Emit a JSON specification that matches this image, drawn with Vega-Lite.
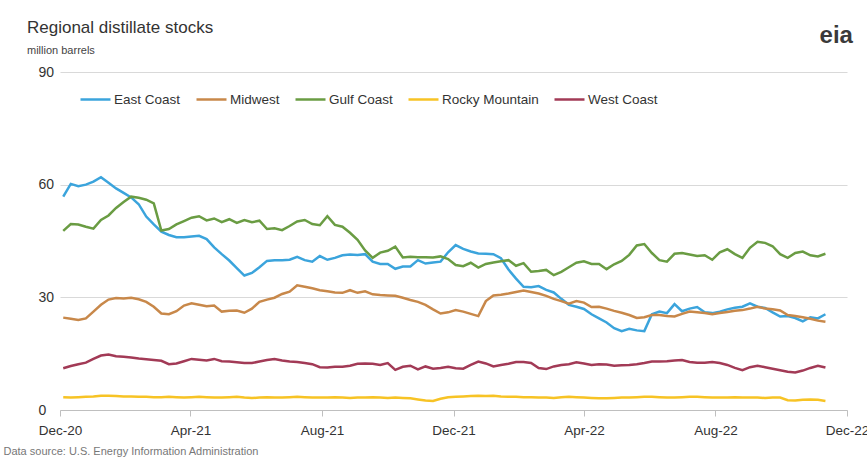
{
  "$schema": "https://vega.github.io/schema/vega-lite/v6.json",
  "width": 787,
  "height": 338,
  "autosize": {"type": "none"},
  "padding": {"left": 60, "top": 72, "right": 20, "bottom": 48},
  "background": "white",
  "config": {
    "font": "Liberation Sans",
    "view": {"stroke": null}
  },
  "title": {
    "text": "Regional distillate stocks",
    "subtitle": "million barrels",
    "anchor": "start",
    "frame": "group",
    "dx": -33,
    "offset": -33,
    "fontSize": 17,
    "fontWeight": "normal",
    "color": "#333333",
    "subtitleFontSize": 11,
    "subtitleColor": "#444444",
    "subtitlePadding": 8
  },
  "datasets": {
    "stocks": [
      {"date":"2020-12-04","East Coast":56.8,"Midwest":24.6,"Gulf Coast":47.7,"Rocky Mountain":3.4,"West Coast":11.1},
      {"date":"2020-12-11","East Coast":60.2,"Midwest":24.3,"Gulf Coast":49.5,"Rocky Mountain":3.3,"West Coast":11.7},
      {"date":"2020-12-18","East Coast":59.6,"Midwest":24.0,"Gulf Coast":49.4,"Rocky Mountain":3.4,"West Coast":12.2},
      {"date":"2020-12-25","East Coast":60.0,"Midwest":24.4,"Gulf Coast":48.8,"Rocky Mountain":3.5,"West Coast":12.6},
      {"date":"2021-01-01","East Coast":60.8,"Midwest":26.2,"Gulf Coast":48.3,"Rocky Mountain":3.6,"West Coast":13.6},
      {"date":"2021-01-08","East Coast":62.0,"Midwest":28.0,"Gulf Coast":50.6,"Rocky Mountain":3.8,"West Coast":14.5},
      {"date":"2021-01-15","East Coast":60.5,"Midwest":29.4,"Gulf Coast":51.8,"Rocky Mountain":3.8,"West Coast":14.8},
      {"date":"2021-01-22","East Coast":59.0,"Midwest":29.8,"Gulf Coast":53.8,"Rocky Mountain":3.7,"West Coast":14.3},
      {"date":"2021-01-29","East Coast":57.8,"Midwest":29.7,"Gulf Coast":55.4,"Rocky Mountain":3.6,"West Coast":14.2},
      {"date":"2021-02-05","East Coast":56.6,"Midwest":29.9,"Gulf Coast":56.8,"Rocky Mountain":3.6,"West Coast":14.0},
      {"date":"2021-02-12","East Coast":54.8,"Midwest":29.5,"Gulf Coast":56.5,"Rocky Mountain":3.5,"West Coast":13.7},
      {"date":"2021-02-19","East Coast":51.5,"Midwest":28.8,"Gulf Coast":56.0,"Rocky Mountain":3.5,"West Coast":13.5},
      {"date":"2021-02-26","East Coast":49.4,"Midwest":27.5,"Gulf Coast":55.0,"Rocky Mountain":3.4,"West Coast":13.3},
      {"date":"2021-03-05","East Coast":47.5,"Midwest":25.7,"Gulf Coast":47.8,"Rocky Mountain":3.4,"West Coast":13.1},
      {"date":"2021-03-12","East Coast":46.6,"Midwest":25.5,"Gulf Coast":48.2,"Rocky Mountain":3.5,"West Coast":12.2},
      {"date":"2021-03-19","East Coast":46.0,"Midwest":26.3,"Gulf Coast":49.4,"Rocky Mountain":3.4,"West Coast":12.4},
      {"date":"2021-03-26","East Coast":46.0,"Midwest":27.8,"Gulf Coast":50.3,"Rocky Mountain":3.3,"West Coast":13.0},
      {"date":"2021-04-02","East Coast":46.2,"Midwest":28.4,"Gulf Coast":51.2,"Rocky Mountain":3.4,"West Coast":13.6},
      {"date":"2021-04-09","East Coast":46.4,"Midwest":28.0,"Gulf Coast":51.6,"Rocky Mountain":3.5,"West Coast":13.4},
      {"date":"2021-04-16","East Coast":45.5,"Midwest":27.6,"Gulf Coast":50.5,"Rocky Mountain":3.4,"West Coast":13.2},
      {"date":"2021-04-23","East Coast":43.3,"Midwest":27.8,"Gulf Coast":51.0,"Rocky Mountain":3.3,"West Coast":13.6},
      {"date":"2021-04-30","East Coast":41.5,"Midwest":26.2,"Gulf Coast":50.0,"Rocky Mountain":3.3,"West Coast":13.0},
      {"date":"2021-05-07","East Coast":39.8,"Midwest":26.4,"Gulf Coast":50.8,"Rocky Mountain":3.4,"West Coast":12.9},
      {"date":"2021-05-14","East Coast":37.8,"Midwest":26.5,"Gulf Coast":49.8,"Rocky Mountain":3.5,"West Coast":12.7},
      {"date":"2021-05-21","East Coast":35.8,"Midwest":25.9,"Gulf Coast":50.6,"Rocky Mountain":3.3,"West Coast":12.5},
      {"date":"2021-05-28","East Coast":36.5,"Midwest":27.0,"Gulf Coast":50.0,"Rocky Mountain":3.2,"West Coast":12.5},
      {"date":"2021-06-04","East Coast":38.0,"Midwest":28.8,"Gulf Coast":50.4,"Rocky Mountain":3.3,"West Coast":12.9},
      {"date":"2021-06-11","East Coast":39.7,"Midwest":29.4,"Gulf Coast":48.2,"Rocky Mountain":3.4,"West Coast":13.3},
      {"date":"2021-06-18","East Coast":39.9,"Midwest":29.9,"Gulf Coast":48.4,"Rocky Mountain":3.3,"West Coast":13.6},
      {"date":"2021-06-25","East Coast":39.9,"Midwest":30.9,"Gulf Coast":47.9,"Rocky Mountain":3.3,"West Coast":13.2},
      {"date":"2021-07-02","East Coast":40.0,"Midwest":31.5,"Gulf Coast":49.0,"Rocky Mountain":3.4,"West Coast":12.9},
      {"date":"2021-07-09","East Coast":40.8,"Midwest":33.2,"Gulf Coast":50.2,"Rocky Mountain":3.5,"West Coast":12.8},
      {"date":"2021-07-16","East Coast":39.9,"Midwest":32.8,"Gulf Coast":50.6,"Rocky Mountain":3.4,"West Coast":12.5},
      {"date":"2021-07-23","East Coast":39.5,"Midwest":32.4,"Gulf Coast":49.5,"Rocky Mountain":3.3,"West Coast":12.2},
      {"date":"2021-07-30","East Coast":41.0,"Midwest":31.9,"Gulf Coast":49.2,"Rocky Mountain":3.3,"West Coast":11.4},
      {"date":"2021-08-06","East Coast":40.0,"Midwest":31.6,"Gulf Coast":51.6,"Rocky Mountain":3.3,"West Coast":11.3},
      {"date":"2021-08-13","East Coast":40.5,"Midwest":31.3,"Gulf Coast":49.3,"Rocky Mountain":3.4,"West Coast":11.5},
      {"date":"2021-08-20","East Coast":41.2,"Midwest":31.2,"Gulf Coast":48.8,"Rocky Mountain":3.3,"West Coast":11.5},
      {"date":"2021-08-27","East Coast":41.4,"Midwest":31.9,"Gulf Coast":47.2,"Rocky Mountain":3.2,"West Coast":11.8},
      {"date":"2021-09-03","East Coast":41.3,"Midwest":31.2,"Gulf Coast":45.3,"Rocky Mountain":3.3,"West Coast":12.3},
      {"date":"2021-09-10","East Coast":41.5,"Midwest":31.6,"Gulf Coast":42.5,"Rocky Mountain":3.3,"West Coast":12.4},
      {"date":"2021-09-17","East Coast":39.5,"Midwest":30.8,"Gulf Coast":40.5,"Rocky Mountain":3.4,"West Coast":12.3},
      {"date":"2021-09-24","East Coast":38.9,"Midwest":30.6,"Gulf Coast":41.9,"Rocky Mountain":3.3,"West Coast":12.0},
      {"date":"2021-10-01","East Coast":38.9,"Midwest":30.5,"Gulf Coast":42.4,"Rocky Mountain":3.2,"West Coast":12.5},
      {"date":"2021-10-08","East Coast":37.6,"Midwest":30.4,"Gulf Coast":43.5,"Rocky Mountain":3.3,"West Coast":10.7},
      {"date":"2021-10-15","East Coast":38.2,"Midwest":29.9,"Gulf Coast":40.6,"Rocky Mountain":3.2,"West Coast":11.5},
      {"date":"2021-10-22","East Coast":38.2,"Midwest":29.3,"Gulf Coast":40.8,"Rocky Mountain":3.1,"West Coast":11.8},
      {"date":"2021-10-29","East Coast":39.9,"Midwest":28.8,"Gulf Coast":40.7,"Rocky Mountain":2.8,"West Coast":10.8},
      {"date":"2021-11-05","East Coast":39.0,"Midwest":28.0,"Gulf Coast":40.7,"Rocky Mountain":2.5,"West Coast":11.6},
      {"date":"2021-11-12","East Coast":39.3,"Midwest":26.8,"Gulf Coast":40.6,"Rocky Mountain":2.4,"West Coast":11.0},
      {"date":"2021-11-19","East Coast":39.5,"Midwest":25.7,"Gulf Coast":40.9,"Rocky Mountain":3.0,"West Coast":11.2},
      {"date":"2021-11-26","East Coast":42.0,"Midwest":26.0,"Gulf Coast":40.2,"Rocky Mountain":3.4,"West Coast":11.5},
      {"date":"2021-12-03","East Coast":43.9,"Midwest":26.6,"Gulf Coast":38.6,"Rocky Mountain":3.5,"West Coast":11.1},
      {"date":"2021-12-10","East Coast":42.9,"Midwest":26.2,"Gulf Coast":38.3,"Rocky Mountain":3.6,"West Coast":11.0},
      {"date":"2021-12-17","East Coast":42.2,"Midwest":25.6,"Gulf Coast":39.2,"Rocky Mountain":3.7,"West Coast":12.0},
      {"date":"2021-12-24","East Coast":41.7,"Midwest":25.0,"Gulf Coast":37.9,"Rocky Mountain":3.8,"West Coast":12.9},
      {"date":"2021-12-31","East Coast":41.6,"Midwest":29.0,"Gulf Coast":38.9,"Rocky Mountain":3.7,"West Coast":12.4},
      {"date":"2022-01-07","East Coast":41.5,"Midwest":30.5,"Gulf Coast":39.3,"Rocky Mountain":3.8,"West Coast":11.6},
      {"date":"2022-01-14","East Coast":40.4,"Midwest":30.7,"Gulf Coast":39.6,"Rocky Mountain":3.6,"West Coast":12.0},
      {"date":"2022-01-21","East Coast":37.4,"Midwest":31.0,"Gulf Coast":39.9,"Rocky Mountain":3.5,"West Coast":12.3},
      {"date":"2022-01-28","East Coast":35.0,"Midwest":31.4,"Gulf Coast":38.4,"Rocky Mountain":3.5,"West Coast":12.8},
      {"date":"2022-02-04","East Coast":32.8,"Midwest":31.8,"Gulf Coast":39.1,"Rocky Mountain":3.4,"West Coast":12.8},
      {"date":"2022-02-11","East Coast":32.7,"Midwest":31.4,"Gulf Coast":36.8,"Rocky Mountain":3.4,"West Coast":12.5},
      {"date":"2022-02-18","East Coast":33.0,"Midwest":31.0,"Gulf Coast":37.0,"Rocky Mountain":3.3,"West Coast":11.2},
      {"date":"2022-02-25","East Coast":32.0,"Midwest":30.4,"Gulf Coast":37.3,"Rocky Mountain":3.3,"West Coast":10.9},
      {"date":"2022-03-04","East Coast":31.3,"Midwest":29.6,"Gulf Coast":35.9,"Rocky Mountain":3.2,"West Coast":11.6},
      {"date":"2022-03-11","East Coast":29.6,"Midwest":29.0,"Gulf Coast":36.8,"Rocky Mountain":3.4,"West Coast":12.0},
      {"date":"2022-03-18","East Coast":28.0,"Midwest":28.3,"Gulf Coast":38.0,"Rocky Mountain":3.5,"West Coast":12.2},
      {"date":"2022-03-25","East Coast":27.5,"Midwest":29.0,"Gulf Coast":39.2,"Rocky Mountain":3.4,"West Coast":12.7},
      {"date":"2022-04-01","East Coast":26.9,"Midwest":28.6,"Gulf Coast":39.6,"Rocky Mountain":3.3,"West Coast":12.4},
      {"date":"2022-04-08","East Coast":25.5,"Midwest":27.4,"Gulf Coast":38.9,"Rocky Mountain":3.2,"West Coast":12.0},
      {"date":"2022-04-15","East Coast":24.4,"Midwest":27.5,"Gulf Coast":38.9,"Rocky Mountain":3.1,"West Coast":12.2},
      {"date":"2022-04-22","East Coast":23.3,"Midwest":27.0,"Gulf Coast":37.5,"Rocky Mountain":3.1,"West Coast":12.1},
      {"date":"2022-04-29","East Coast":21.8,"Midwest":26.4,"Gulf Coast":38.8,"Rocky Mountain":3.2,"West Coast":11.8},
      {"date":"2022-05-06","East Coast":21.0,"Midwest":25.9,"Gulf Coast":39.7,"Rocky Mountain":3.3,"West Coast":11.9},
      {"date":"2022-05-13","East Coast":21.6,"Midwest":25.3,"Gulf Coast":41.3,"Rocky Mountain":3.3,"West Coast":12.0},
      {"date":"2022-05-20","East Coast":21.2,"Midwest":24.5,"Gulf Coast":43.8,"Rocky Mountain":3.4,"West Coast":12.2},
      {"date":"2022-05-27","East Coast":21.0,"Midwest":24.7,"Gulf Coast":44.2,"Rocky Mountain":3.5,"West Coast":12.5},
      {"date":"2022-06-03","East Coast":25.5,"Midwest":25.3,"Gulf Coast":41.8,"Rocky Mountain":3.5,"West Coast":12.9},
      {"date":"2022-06-10","East Coast":26.2,"Midwest":25.3,"Gulf Coast":39.9,"Rocky Mountain":3.4,"West Coast":12.9},
      {"date":"2022-06-17","East Coast":25.8,"Midwest":25.0,"Gulf Coast":39.5,"Rocky Mountain":3.3,"West Coast":13.0},
      {"date":"2022-06-24","East Coast":28.2,"Midwest":24.9,"Gulf Coast":41.6,"Rocky Mountain":3.3,"West Coast":13.2},
      {"date":"2022-07-01","East Coast":26.3,"Midwest":25.6,"Gulf Coast":41.8,"Rocky Mountain":3.4,"West Coast":13.3},
      {"date":"2022-07-08","East Coast":27.0,"Midwest":26.2,"Gulf Coast":41.4,"Rocky Mountain":3.5,"West Coast":12.8},
      {"date":"2022-07-15","East Coast":27.4,"Midwest":26.0,"Gulf Coast":41.0,"Rocky Mountain":3.5,"West Coast":12.6},
      {"date":"2022-07-22","East Coast":26.0,"Midwest":25.8,"Gulf Coast":41.2,"Rocky Mountain":3.4,"West Coast":12.6},
      {"date":"2022-07-29","East Coast":25.8,"Midwest":25.5,"Gulf Coast":40.0,"Rocky Mountain":3.3,"West Coast":12.8},
      {"date":"2022-08-05","East Coast":26.2,"Midwest":25.8,"Gulf Coast":42.0,"Rocky Mountain":3.3,"West Coast":12.5},
      {"date":"2022-08-12","East Coast":26.8,"Midwest":26.1,"Gulf Coast":42.8,"Rocky Mountain":3.3,"West Coast":12.0},
      {"date":"2022-08-19","East Coast":27.2,"Midwest":26.4,"Gulf Coast":41.5,"Rocky Mountain":3.4,"West Coast":11.2},
      {"date":"2022-08-26","East Coast":27.5,"Midwest":26.6,"Gulf Coast":40.5,"Rocky Mountain":3.3,"West Coast":10.6},
      {"date":"2022-09-02","East Coast":28.4,"Midwest":27.0,"Gulf Coast":43.2,"Rocky Mountain":3.3,"West Coast":11.4},
      {"date":"2022-09-09","East Coast":27.5,"Midwest":27.5,"Gulf Coast":44.8,"Rocky Mountain":3.3,"West Coast":11.8},
      {"date":"2022-09-16","East Coast":27.2,"Midwest":27.0,"Gulf Coast":44.5,"Rocky Mountain":3.2,"West Coast":11.4},
      {"date":"2022-09-23","East Coast":26.0,"Midwest":26.8,"Gulf Coast":43.6,"Rocky Mountain":3.3,"West Coast":11.0},
      {"date":"2022-09-30","East Coast":24.9,"Midwest":26.5,"Gulf Coast":41.5,"Rocky Mountain":3.3,"West Coast":10.6},
      {"date":"2022-10-07","East Coast":25.0,"Midwest":25.3,"Gulf Coast":40.5,"Rocky Mountain":2.6,"West Coast":10.2},
      {"date":"2022-10-14","East Coast":24.5,"Midwest":25.0,"Gulf Coast":41.8,"Rocky Mountain":2.5,"West Coast":10.0},
      {"date":"2022-10-21","East Coast":23.6,"Midwest":24.7,"Gulf Coast":42.2,"Rocky Mountain":2.7,"West Coast":10.5},
      {"date":"2022-10-28","East Coast":24.7,"Midwest":24.3,"Gulf Coast":41.2,"Rocky Mountain":2.8,"West Coast":11.2},
      {"date":"2022-11-04","East Coast":24.4,"Midwest":23.8,"Gulf Coast":40.9,"Rocky Mountain":2.7,"West Coast":11.8},
      {"date":"2022-11-11","East Coast":25.5,"Midwest":23.5,"Gulf Coast":41.6,"Rocky Mountain":2.4,"West Coast":11.3}
    ],
    "logo": [
      {"date": "2022-11-21", "stocks": 99.5, "label": "eia"}
    ]
  },
  "layer": [
    {
      "data": {"name": "stocks"},
      "transform": [
        {"fold": ["East Coast", "Midwest", "Gulf Coast", "Rocky Mountain", "West Coast"], "as": ["region", "stocks"]}
      ],
      "mark": {"type": "line", "strokeWidth": 2.5, "clip": false},
      "encoding": {
        "x": {
          "field": "date",
          "type": "temporal",
          "scale": {
            "type": "utc",
            "domain": [
              {"year": 2020, "month": 12, "date": 1, "utc": true},
              {"year": 2022, "month": 12, "date": 1, "utc": true}
            ]
          },
          "axis": {
            "values": [
              {"year": 2020, "month": 12, "date": 1, "utc": true},
              {"year": 2021, "month": 4, "date": 1, "utc": true},
              {"year": 2021, "month": 8, "date": 1, "utc": true},
              {"year": 2021, "month": 12, "date": 1, "utc": true},
              {"year": 2022, "month": 4, "date": 1, "utc": true},
              {"year": 2022, "month": 8, "date": 1, "utc": true},
              {"year": 2022, "month": 12, "date": 1, "utc": true}
            ],
            "labelExpr": "utcFormat(datum.value, '%b-%y')",
            "grid": false,
            "domain": true,
            "domainColor": "#bfbfbf",
            "domainWidth": 1,
            "ticks": true,
            "tickColor": "#bfbfbf",
            "tickSize": 6,
            "labelFontSize": 13.5,
            "labelColor": "#333333",
            "labelPadding": 7,
            "labelFlush": false,
            "labelOverlap": false,
            "title": "Data source: U.S. Energy Information Administration",
            "titleFontSize": 11,
            "titleFontWeight": "normal",
            "titleColor": "#777777",
            "titleAnchor": "start",
            "titleAlign": "left",
            "titleBaseline": "alphabetic",
            "titleX": -57,
            "titleY": 44
          }
        },
        "y": {
          "field": "stocks",
          "type": "quantitative",
          "scale": {"domain": [0, 90], "nice": false, "zero": true},
          "axis": {
            "values": [0, 30, 60, 90],
            "title": null,
            "grid": true,
            "gridColor": "#d9d9d9",
            "gridWidth": 1,
            "domain": false,
            "ticks": false,
            "labelAlign": "left",
            "labelPadding": 22,
            "labelFontSize": 14,
            "labelColor": "#333333"
          }
        },
        "color": {
          "field": "region",
          "type": "nominal",
          "scale": {
            "domain": ["East Coast", "Midwest", "Gulf Coast", "Rocky Mountain", "West Coast"],
            "range": ["#3ba4dc", "#c8884a", "#6a9c43", "#f7c325", "#a23a56"]
          },
          "legend": {
            "orient": "none",
            "direction": "horizontal",
            "legendX": 19,
            "legendY": 11,
            "title": null,
            "symbolType": "stroke",
            "symbolSize": 900,
            "symbolStrokeWidth": 2.5,
            "labelFontSize": 13.5,
            "labelColor": "#333333",
            "labelOffset": 2,
            "columnPadding": 10
          }
        }
      }
    },
    {
      "data": {"name": "logo"},
      "mark": {"type": "text", "fontSize": 24, "fontWeight": "bold", "color": "#3a3a3a", "align": "center", "baseline": "middle", "clip": false},
      "encoding": {
        "x": {"field": "date", "type": "temporal"},
        "y": {"field": "stocks", "type": "quantitative"},
        "text": {"field": "label"}
      }
    }
  ]
}
